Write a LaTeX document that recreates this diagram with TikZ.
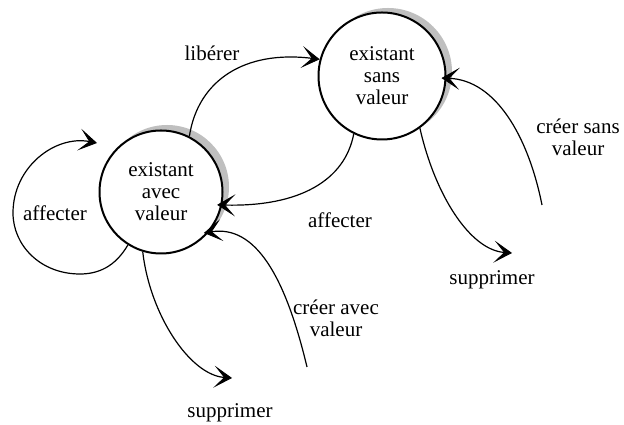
\documentclass[tikz,border=0pt]{standalone}
\usepackage{fontspec}
\setmainfont{Liberation Serif}
\usetikzlibrary{arrows.meta}
\begin{document}
\begin{tikzpicture}[x=1pt,y=1pt,
  every node/.style={font=\fontsize{21}{22}\selectfont},
  state/.style={circle,draw=black,line width=2pt,fill=white,inner sep=0pt,align=center},
  shade/.style={circle,fill=gray!50,inner sep=0pt},
  lbl/.style={align=center,inner sep=0pt},
  conn/.style={line width=1.2pt,-{Stealth[length=18pt,width=22pt,inset=10pt,line width=0.8pt]}}]
\useasboundingbox (0,0) rectangle (624,425);
% shadows
\node[shade,minimum size=124pt] (As) at (167,238) {};
\node[shade,minimum size=128pt] (Bs) at (388,353) {};
% states
\node[state,minimum size=123pt] (A) at (161,233) {existant\\avec\\valeur};
\node[state,minimum size=127pt] (B) at (382,349) {existant\\sans\\valeur};
% free ends
\coordinate (Aloop) at (97,282);
\coordinate (Asupp) at (232,47);
\coordinate (CAV) at (307,58);
\coordinate (Bsupp) at (512,172);
\coordinate (CSV) at (542,220);
% connectors
\draw[conn] (A.63) .. controls (198,345) and (245,375) .. (B.165);
\draw[conn,shorten >=-5pt] (B.244) .. controls (345,245) and (300,218) .. (A.348);
\draw[conn] (A.238) .. controls (115,158) and (98,151) .. (80,151)
  .. controls (40,151) and (13,180) .. (13,212)
  .. controls (13,258) and (55,290) .. (Aloop);
\draw[conn] (A.253) .. controls (150,110) and (190,50) .. (Asupp);
\draw[conn,shorten >=-5pt] (CAV) .. controls (285,150) and (255,200) .. (A.320);
\draw[conn] (B.306) .. controls (435,230) and (470,175) .. (Bsupp);
\draw[conn,shorten >=-5pt] (CSV) .. controls (528,290) and (495,345) .. (B.358);
% labels
\node[lbl] (l1) at (212,372) {libérer};
\node[lbl] (l2) at (340,205) {affecter};
\node[lbl] (l3) at (55,212) {affecter};
\node[lbl] (l4) at (230,12) {supprimer};
\node[lbl] (l5) at (336,107) {créer avec\\valeur};
\node[lbl] (l6) at (492,145) {supprimer};
\node[lbl] (l7) at (578,288) {créer sans\\valeur};
\end{tikzpicture}
\end{document}
